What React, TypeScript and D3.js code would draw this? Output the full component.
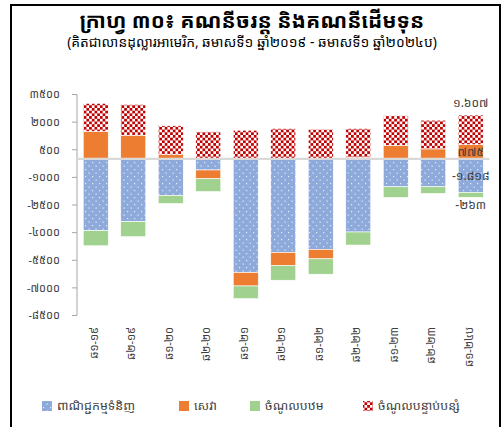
import React, { useEffect, useRef } from "react";
import * as d3 from "d3";

const categories = ["ឆ១-១៩", "ឆ២-១៩", "ឆ១-២០", "ឆ២-២០", "ឆ១-២១", "ឆ២-២១", "ឆ១-២២", "ឆ២-២២", "ឆ១-២៣", "ឆ២-២៣", "ឆ១-២៤ប"];
const goods = [-3895, -3404, -1986, -600, -6165, -5074, -4910, -3966, -1511, -1511, -1818];
const services = [1506, 1288, 235, -475, -731, -709, -513, 80, 742, 546, 775];
const primary = [-818, -818, -436, -693, -687, -802, -835, -709, -584, -364, -263];
const secondary = [1511, 1675, 1565, 1473, 1560, 1653, 1615, 1573, 1604, 1560, 1607];
const yTicks = [3500, 2000, 500, -1000, -2500, -4000, -5500, -7000, -8500];
const seriesNames = ["ពាណិជ្ជកម្មទំនិញ", "សេវា", "ចំណូលបឋម", "ចំណូលបន្ទាប់បន្សំ"];
const title = "ក្រាហ្វ ៣០៖ គណនីចរន្ត និងគណនីដើមទុន";
const subtitle = "(គិតជាលានដុល្លារអាមេរិក, ឆមាសទី១ ឆ្នាំ២០១៩ - ឆមាសទី១ ឆ្នាំ២០២៤ប)";

const KH = "០១២៣៤៥៦៧៨៩";
const toKhmer = (n: number, group: boolean) => {
  const neg = n < 0;
  let s = String(Math.abs(n));
  if (group) s = s.replace(/\B(?=(\d{3})+(?!\d))/g, ".");
  s = s.replace(/\d/g, (d) => KH[+d]);
  return (neg ? "-" : "") + s;
};

const FONT = "'Noto Sans Khmer', 'Khmer OS', 'Khmer OS System', 'DejaVu Sans', sans-serif";

export default function App() {
  const ref = useRef<SVGSVGElement>(null);
  useEffect(() => {
    const svg = d3.select(ref.current);
    svg.selectAll("*").remove();
    const W = 504, H = 427;
    const keys = ["goods", "services", "primary", "secondary"];
    const table = categories.map((c, i) => ({
      cat: c, goods: goods[i], services: services[i], primary: primary[i], secondary: secondary[i],
    }));
    const stack = d3.stack<any>().keys(keys).offset(d3.stackOffsetDiverging);
    const series = stack(table);

    const x = d3.scaleBand().domain(categories).range([77, 489.5]).paddingInner(0.333).paddingOuter(0.1665);
    const y = d3.scaleLinear().domain([-8500, 3500]).range([315.5, 94.5]);

    const defs = svg.append("defs");
    const pb = defs.append("pattern").attr("id", "pBlue").attr("patternUnits", "userSpaceOnUse")
      .attr("width", 7).attr("height", 7);
    pb.append("rect").attr("width", 7).attr("height", 7).attr("fill", "#8eaadb");
    pb.append("rect").attr("x", 1).attr("y", 1).attr("width", 1.2).attr("height", 1.2).attr("fill", "#e4ecf8");
    pb.append("rect").attr("x", 4.5).attr("y", 4.5).attr("width", 1.2).attr("height", 1.2).attr("fill", "#e4ecf8");
    const pr = defs.append("pattern").attr("id", "pRed").attr("patternUnits", "userSpaceOnUse")
      .attr("width", 5.4).attr("height", 5.4);
    pr.append("rect").attr("width", 5.4).attr("height", 5.4).attr("fill", "#ffffff");
    pr.append("rect").attr("width", 2.7).attr("height", 2.7).attr("fill", "#c00000");
    pr.append("rect").attr("x", 2.7).attr("y", 2.7).attr("width", 2.7).attr("height", 2.7).attr("fill", "#c00000");

    const fills = ["url(#pBlue)", "#ed7d31", "#a1d18f", "url(#pRed)"];

    // frame
    svg.append("path").attr("d", `M11,${H + 5} V5 H500 V${H + 5}`).attr("fill", "none")
      .attr("stroke", "#000").attr("stroke-width", 2);

    // title
    svg.append("text").attr("x", 252).attr("y", 28).attr("text-anchor", "middle")
      .attr("font-family", FONT).attr("font-size", 21).attr("font-weight", "bold").attr("fill", "#000").text(title);
    svg.append("text").attr("x", 252).attr("y", 47).attr("text-anchor", "middle")
      .attr("font-family", FONT).attr("font-size", 13.8).attr("fill", "#000").text(subtitle);

    // y axis
    const ya = svg.append("g");
    ya.append("line").attr("x1", 77).attr("x2", 77).attr("y1", y(3500)).attr("y2", y(-8500))
      .attr("stroke", "#a6a6a6");
    yTicks.forEach((t) => {
      ya.append("line").attr("x1", 72).attr("x2", 77).attr("y1", y(t)).attr("y2", y(t)).attr("stroke", "#a6a6a6");
      ya.append("text").attr("x", 60).attr("y", y(t)).attr("dy", "0.35em").attr("text-anchor", "end")
        .attr("font-family", FONT).attr("font-size", 11).attr("fill", "#404040").text(toKhmer(t, false));
    });

    // bars
    series.forEach((s, si) => {
      svg.append("g").selectAll("rect").data(s).join("rect")
        .attr("x", (d: any) => x(d.data.cat)!)
        .attr("width", x.bandwidth())
        .attr("y", (d: any) => y(Math.max(d[0], d[1])))
        .attr("height", (d: any) => Math.abs(y(d[0]) - y(d[1])))
        .attr("fill", fills[si])
        .attr("stroke", "#ffffff").attr("stroke-width", 0.6);
    });

    // zero line
    svg.append("line").attr("x1", 77).attr("x2", 489.5).attr("y1", y(0)).attr("y2", y(0))
      .attr("stroke", "#d9d9d9").attr("stroke-width", 2.3);

    // x labels
    categories.forEach((c) => {
      const cx = x(c)! + x.bandwidth() / 2;
      svg.append("text").attr("transform", `translate(${cx + 2},327) rotate(-90)`)
        .attr("text-anchor", "end").attr("font-family", FONT).attr("font-size", 11)
        .attr("fill", "#404040").text(c);
    });

    // data labels for last bar
    const li = categories.length - 1;
    const lastCx = x(categories[li])! + x.bandwidth() / 2;
    const seg = (si: number) => series[si][li];
    const lab = (txt: string, yy: number) =>
      svg.append("text").attr("x", lastCx).attr("y", yy).attr("dy", "0.35em").attr("text-anchor", "middle")
        .attr("font-family", FONT).attr("font-size", 12).attr("fill", "#404040").text(txt);
    const sS = seg(3), sV = seg(1), sG = seg(0), sP = seg(2);
    lab(toKhmer(secondary[li], true), y(Math.max(sS[0], sS[1])) - 12);
    lab(toKhmer(services[li], true), (y(sV[0]) + y(sV[1])) / 2);
    lab(toKhmer(goods[li], true), (y(sG[0]) + y(sG[1])) / 2);
    lab(toKhmer(primary[li], true), y(Math.min(sP[0], sP[1])) + 8);

    // legend
    const lx = [42, 179, 250, 363];
    seriesNames.forEach((n, i) => {
      svg.append("rect").attr("x", lx[i]).attr("y", 401).attr("width", 10).attr("height", 10).attr("fill", fills[i]);
      svg.append("text").attr("x", lx[i] + 15).attr("y", 406).attr("dy", "0.35em")
        .attr("font-family", FONT).attr("font-size", 12.5).attr("fill", "#404040").text(n);
    });
  }, []);
  return (
    <svg ref={ref} width={504} height={427} style={{ position: "absolute", left: 0, top: 0, background: "#fff" }} />
  );
}
